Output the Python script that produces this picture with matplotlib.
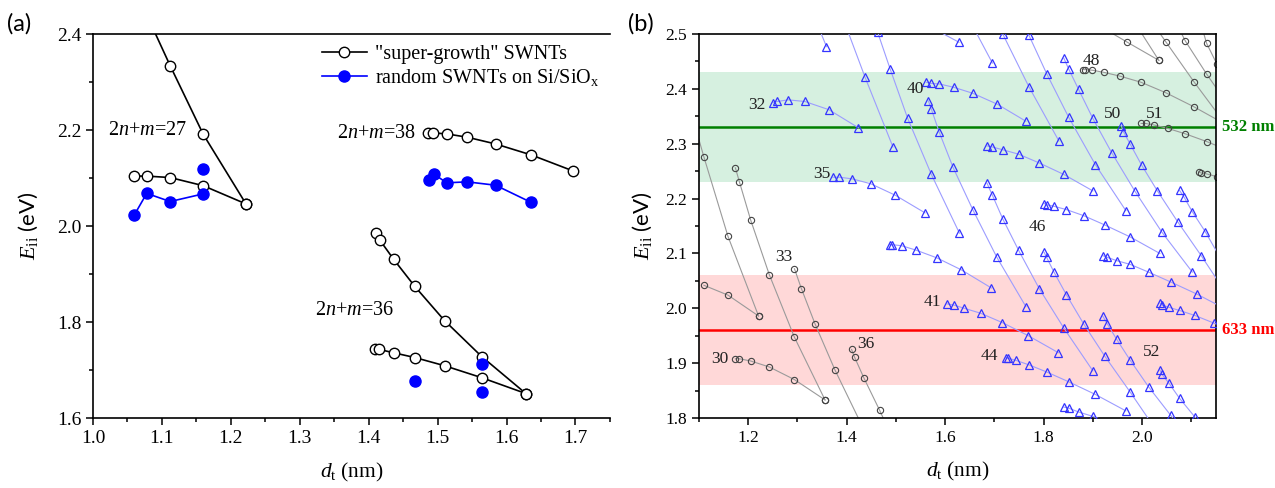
import matplotlib
matplotlib.use('Agg')
import matplotlib.pyplot as plt
from matplotlib.ticker import MultipleLocator

plt.rcParams['font.family'] = 'Liberation Serif'
plt.rcParams['mathtext.fontset'] = 'custom'
plt.rcParams['mathtext.rm'] = 'Liberation Serif'
plt.rcParams['mathtext.it'] = 'Liberation Serif:italic'
plt.rcParams['mathtext.sf'] = 'Lato'

# ---------------- panel (a): measured Eii vs diameter ----------------
# "super-growth" SWNTs (open circles), two branches per 2n+m family
sg27_up_d = [1.078, 1.112, 1.160, 1.222]
sg27_up_E = [2.440, 2.334, 2.191, 2.046]
sg27_lo_d = [1.060, 1.078, 1.112, 1.160, 1.222]
sg27_lo_E = [2.104, 2.104, 2.101, 2.084, 2.046]
sg38_d = [1.486, 1.493, 1.513, 1.543, 1.584, 1.636, 1.696]
sg38_E = [2.194, 2.194, 2.192, 2.185, 2.171, 2.148, 2.115]
sg36_up_d = [1.410, 1.416, 1.436, 1.467, 1.510, 1.564, 1.628]
sg36_up_E = [1.985, 1.971, 1.931, 1.874, 1.803, 1.728, 1.651]
sg36_lo_d = [1.409, 1.415, 1.436, 1.467, 1.510, 1.564, 1.628]
sg36_lo_E = [1.744, 1.743, 1.736, 1.726, 1.709, 1.684, 1.651]

# random SWNTs on Si/SiOx (filled circles)
rnd27_d = [1.060, 1.078, 1.112, 1.160]
rnd27_E = [2.023, 2.068, 2.051, 2.067]
rnd38_d = [1.488, 1.495, 1.513, 1.543, 1.584, 1.636]
rnd38_E = [2.096, 2.108, 2.090, 2.092, 2.085, 2.049]
rnd_single_d = [1.160, 1.467, 1.564, 1.564]
rnd_single_E = [2.118, 1.678, 1.712, 1.654]

# ---------------- panel (b): Kataura plot ----------------
# semiconducting branches [diameters, energies]; f = flat branch, s = steep branch
s31_s = [[1.303, 1.359], [2.600, 2.477]]
s34_s = [[1.392, 1.437, 1.494], [2.530, 2.422, 2.294]]
s37_f = [[1.572, 1.628], [2.512, 2.485]]
s37_s = [[1.450, 1.463, 1.488, 1.524, 1.572, 1.629], [2.530, 2.503, 2.437, 2.346, 2.244, 2.137]]
s32_f = [[1.251, 1.259, 1.281, 1.315, 1.364, 1.424], [2.375, 2.377, 2.380, 2.377, 2.362, 2.329]]
s35_f = [[1.372, 1.385, 1.411, 1.449, 1.499, 1.559], [2.239, 2.239, 2.236, 2.227, 2.206, 2.174]]
s38_f = [[1.487, 1.493, 1.512, 1.541, 1.583, 1.633, 1.694], [2.116, 2.116, 2.114, 2.106, 2.092, 2.070, 2.037]]
s38_s = [[1.635, 1.696], [2.550, 2.447]]
s40_f = [[1.562, 1.571, 1.588, 1.617, 1.656, 1.706, 1.764], [2.412, 2.410, 2.409, 2.403, 2.392, 2.372, 2.341]]
s40_s = [[1.566, 1.572, 1.588, 1.616, 1.656, 1.705, 1.764], [2.378, 2.363, 2.321, 2.257, 2.180, 2.093, 2.003]]
s41_f = [[1.604, 1.617, 1.639, 1.672, 1.716, 1.769, 1.830], [2.008, 2.006, 2.000, 1.991, 1.974, 1.950, 1.919]]
s41_s = [[1.674, 1.717, 1.770, 1.831], [2.570, 2.500, 2.404, 2.305]]
s43_f = [[1.685, 1.696, 1.717, 1.749, 1.791, 1.841, 1.900], [2.296, 2.294, 2.289, 2.281, 2.265, 2.244, 2.214]]
s43_s = [[1.685, 1.696, 1.717, 1.749, 1.791, 1.841, 1.900], [2.228, 2.206, 2.163, 2.106, 2.036, 1.964, 1.886]]
s44_f = [[1.723, 1.728, 1.744, 1.770, 1.806, 1.851, 1.905, 1.967], [1.910, 1.909, 1.905, 1.897, 1.884, 1.866, 1.843, 1.813]]
s44_s = [[1.744, 1.770, 1.806, 1.851, 1.905, 1.967], [2.540, 2.498, 2.428, 2.348, 2.262, 2.178]]
s46_f = [[1.801, 1.806, 1.821, 1.846, 1.881, 1.924, 1.976, 2.036], [2.191, 2.189, 2.186, 2.180, 2.169, 2.152, 2.130, 2.100]]
s46_s = [[1.801, 1.806, 1.821, 1.846, 1.881, 1.924, 1.976, 2.036], [2.102, 2.093, 2.066, 2.025, 1.972, 1.913, 1.847, 1.768]]
s47_f = [[1.841, 1.851, 1.871, 1.900, 1.938], [1.820, 1.818, 1.811, 1.803, 1.790]]
s47_s = [[1.841, 1.851, 1.871, 1.900, 1.938, 1.985, 2.040, 2.102], [2.456, 2.436, 2.399, 2.346, 2.284, 2.214, 2.139, 2.066]]
s49_f = [[1.920, 1.929, 1.948, 1.976, 2.013, 2.058, 2.111, 2.171], [2.096, 2.093, 2.087, 2.080, 2.066, 2.048, 2.026, 1.998]]
s49_s = [[1.920, 1.929, 1.948, 1.976, 2.013, 2.058, 2.111], [1.986, 1.972, 1.944, 1.905, 1.857, 1.805, 1.745]]
s50_s = [[1.958, 1.962, 1.976, 1.999, 2.031, 2.072, 2.120, 2.176], [2.332, 2.322, 2.299, 2.261, 2.214, 2.158, 2.096, 2.020]]
s52_f = [[2.036, 2.040, 2.054, 2.076, 2.107, 2.146, 2.190], [2.010, 2.006, 2.002, 1.996, 1.987, 1.973, 1.955]]
s52_s = [[2.036, 2.040, 2.054, 2.076, 2.107, 2.146], [1.888, 1.880, 1.864, 1.836, 1.802, 1.760]]
s53_s = [[2.076, 2.085, 2.102, 2.128, 2.160], [2.215, 2.203, 2.176, 2.140, 2.090]]

# metallic branches (upper / lower)
m27_up = [[1.077, 1.110, 1.159, 1.221], [2.380, 2.276, 2.131, 1.986]]
m27_lo = [[1.110, 1.159, 1.221], [2.042, 2.024, 1.986]]
m30_up = [[1.174, 1.182, 1.205, 1.243, 1.294, 1.356], [2.256, 2.231, 2.161, 2.061, 1.947, 1.833]]
m30_lo = [[1.174, 1.182, 1.205, 1.243, 1.294, 1.356], [1.908, 1.908, 1.904, 1.893, 1.870, 1.833]]
m33_up = [[1.294, 1.308, 1.336, 1.376, 1.429], [2.072, 2.036, 1.971, 1.888, 1.790]]
m36_up = [[1.410, 1.416, 1.435, 1.467, 1.510], [1.925, 1.911, 1.873, 1.814, 1.730]]
m45_up = [[1.970, 2.034], [2.542, 2.452]]
m45_lo = [[1.913, 1.970, 2.034], [2.515, 2.485, 2.452]]
m48_up = [[1.998, 2.048, 2.106, 2.170], [2.550, 2.486, 2.412, 2.335]]
m48_lo = [[1.880, 1.884, 1.899, 1.923, 1.956, 1.998, 2.048, 2.106, 2.170],
          [2.435, 2.435, 2.434, 2.430, 2.423, 2.412, 2.393, 2.367, 2.335]]
m51_up = [[2.052, 2.088, 2.131, 2.183], [2.550, 2.487, 2.427, 2.360]]
m51_lo = [[1.998, 2.007, 2.025, 2.052, 2.088, 2.131, 2.183], [2.337, 2.337, 2.334, 2.328, 2.318, 2.304, 2.285]]
m54_up = [[2.119, 2.131, 2.152], [2.520, 2.483, 2.445]]
m54_lo = [[2.115, 2.119, 2.131, 2.152], [2.248, 2.247, 2.245, 2.240]]

semi_branches = [s31_s, s34_s, s37_f, s37_s, s32_f, s35_f, s38_f, s38_s, s40_f, s40_s,
                 s41_f, s41_s, s43_f, s43_s, s44_f, s44_s, s46_f, s46_s, s47_f, s47_s,
                 s49_f, s49_s, s50_s, s52_f, s52_s, s53_s]
metal_branches = [m27_up, m27_lo, m30_up, m30_lo, m33_up, m36_up, m45_up, m45_lo,
                  m48_up, m48_lo, m51_up, m51_lo, m54_up, m54_lo]

family_labels = ['32', '35', '40', '48', '50', '51', '46', '33', '30', '36', '41', '44', '52']
family_label_d = [1.217, 1.349, 1.540, 1.896, 1.939, 2.026, 1.787, 1.273, 1.143, 1.439, 1.575, 1.689, 2.019]
family_label_E = [2.370, 2.244, 2.399, 2.450, 2.355, 2.355, 2.148, 2.093, 1.907, 1.935, 2.012, 1.913, 1.920]

laser_E = [2.33, 1.96]
laser_band = [0.10, 0.10]
laser_names = ['532 nm', '633 nm']


def style_axis(ax, size):
    for s in ax.spines.values():
        s.set_linewidth(1.2)
    ax.tick_params(which='both', direction='out', top=False, right=False, labelsize=size, width=1.1)
    ax.tick_params(which='major', length=5)
    ax.tick_params(which='minor', length=3)


fig = plt.figure(figsize=(12.75, 4.88), dpi=100)
ax1 = fig.add_axes([0.0729, 0.1434, 0.4055, 0.7869])
ax2 = fig.add_axes([0.5482, 0.1434, 0.4055, 0.7869])

# ---- (a)
sg = dict(color='black', lw=1.2, marker='o', ms=7.5, mfc='white', mec='black', mew=1.0)
ax1.plot(sg27_up_d, sg27_up_E, **sg, label='"super-growth" SWNTs')
ax1.plot(sg27_lo_d, sg27_lo_E, **sg)
ax1.plot(sg38_d, sg38_E, **sg)
ax1.plot(sg36_up_d, sg36_up_E, **sg)
ax1.plot(sg36_lo_d, sg36_lo_E, **sg)
rd = dict(color='blue', lw=1.2, marker='o', ms=8)
ax1.plot(rnd27_d, rnd27_E, **rd, label='random SWNTs on Si/SiO$_\\mathrm{x}$')
ax1.plot(rnd38_d, rnd38_E, **rd)
ax1.plot(rnd_single_d, rnd_single_E, 'o', color='blue', ms=8)

ax1.text(1.022, 2.200, '2$n$+$m$=27', fontsize=14.5, va='center')
ax1.text(1.354, 2.193, '2$n$+$m$=38', fontsize=14.5, va='center')
ax1.text(1.322, 1.823, '2$n$+$m$=36', fontsize=14.5, va='center')

ax1.set_xlim(1.0, 1.75)
ax1.set_ylim(1.6, 2.4)
ax1.xaxis.set_major_locator(MultipleLocator(0.1))
ax1.xaxis.set_minor_locator(MultipleLocator(0.05))
ax1.yaxis.set_major_locator(MultipleLocator(0.2))
ax1.yaxis.set_minor_locator(MultipleLocator(0.1))
ax1.spines['right'].set_visible(False)
style_axis(ax1, 14)
ax1.set_xlabel('$\\mathit{d}_{\\mathrm{t}}$ (nm)', fontsize=15.5, labelpad=10)
ax1.set_ylabel('$\\mathit{E}_{\\mathrm{ii}}$ $\\mathsf{(eV)}$', fontsize=16, labelpad=12)
ax1.legend(loc='upper right', bbox_to_anchor=(1.0, 1.0), frameon=False, fontsize=14.5,
           handlelength=2.2, handletextpad=0.4, labelspacing=0.15, borderaxespad=0.15)

# ---- (b)
colors = ['#008000', '#ff0000']
bands = ['#d6f0e0', '#ffd8d8']
for e, w, c, b, name in zip(laser_E, laser_band, colors, bands, laser_names):
    ax2.axhspan(e - w, e + w, color=b, lw=0, zorder=0)
    ax2.axhline(e, color=c, lw=1.8, zorder=1)
    ax2.text(1.012, e, name, transform=ax2.get_yaxis_transform(), color=c,
             fontsize=12, fontweight='bold', va='center', ha='left')

for d, E in metal_branches:
    ax2.plot(d, E, color='#9a9a9a', lw=0.8, marker='o', ms=4.5, mfc='none',
             mec='#444444', mew=0.8, zorder=2)
for d, E in semi_branches:
    ax2.plot(d, E, color='#9c9cff', lw=0.8, marker='^', ms=5.5, mfc='none',
             mec='#3434ff', mew=0.9, zorder=3)

for t, d, E in zip(family_labels, family_label_d, family_label_E):
    ax2.text(d, E, t, fontsize=12.5, ha='center', va='center', color='#222222', zorder=4)

ax2.set_xlim(1.1, 2.15)
ax2.set_ylim(1.8, 2.5)
ax2.xaxis.set_major_locator(MultipleLocator(0.2))
ax2.xaxis.set_minor_locator(MultipleLocator(0.1))
ax2.yaxis.set_major_locator(MultipleLocator(0.1))
ax2.yaxis.set_minor_locator(MultipleLocator(0.05))
style_axis(ax2, 12.5)
ax2.set_xlabel('$\\mathit{d}_{\\mathrm{t}}$ (nm)', fontsize=15.5, labelpad=10)
ax2.set_ylabel('$\\mathit{E}_{\\mathrm{ii}}$ $\\mathsf{(eV)}$', fontsize=16, labelpad=8)

fig.text(0.0055, 0.952, '(a)', fontsize=17, family='Lato', va='center')
fig.text(0.4925, 0.952, '(b)', fontsize=17, family='Lato', va='center')

fig.savefig('out.png', dpi=100)
